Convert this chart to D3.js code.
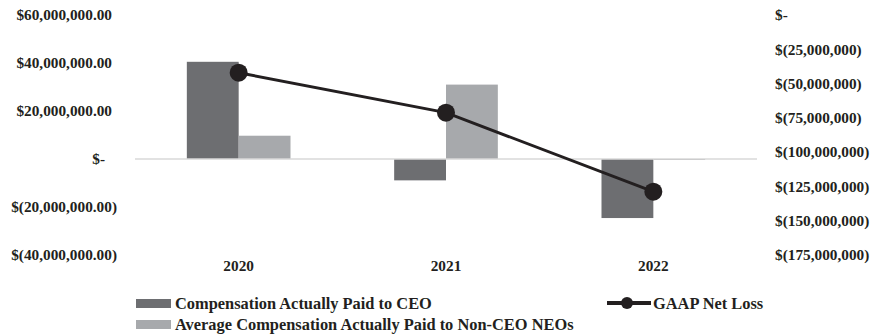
<!DOCTYPE html>
<html>
<head>
<meta charset="utf-8">
<script src="https://cdn.jsdelivr.net/npm/d3@7"></script>
<style>
  body { margin: 0; background: #fff; }
  text { font-family: 'Liberation Serif', 'Times New Roman', serif; font-weight: bold; fill: #231f20; }
</style>
</head>
<body>
<div id="chart"></div>
<script>
const years        = ['2020', '2021', '2022']
const seriesNames  = ['Compensation Actually Paid to CEO', 'Average Compensation Actually Paid to Non-CEO NEOs']
const ceoPaid      = [40500000, -8900000, -24600000]
const neoPaid      = [9700000, 31000000, -400000]
const netLoss      = [-42100000, -71200000, -128800000]
const leftTicks    = [60000000, 40000000, 20000000, 0, -20000000, -40000000]
const leftLabels   = ['$60,000,000.00', '$40,000,000.00', '$20,000,000.00', '$-', '$(20,000,000.00)', '$(40,000,000.00)']
const rightTicks   = [0, -25000000, -50000000, -75000000, -100000000, -125000000, -150000000, -175000000]
const rightLabels  = ['$-', '$(25,000,000)', '$(50,000,000)', '$(75,000,000)', '$(100,000,000)', '$(125,000,000)', '$(150,000,000)', '$(175,000,000)']
const lineName     = 'GAAP Net Loss'

const barColors   = ['#6d6e71', '#a7a9ac']
const lineColor   = '#231f20'
const width = 877, height = 334
const plot = { left: 135, right: 757, top: 15, bottom: 255 }

const svg = d3.select('#chart').append('svg').attr('width', width).attr('height', height)

const x0 = d3.scaleBand().domain(years).range([plot.left, plot.right]).paddingInner(0).paddingOuter(0)
const x1 = d3.scaleBand().domain([0, 1]).range([0, x0.bandwidth()]).paddingInner(0).paddingOuter(1)
const yL = d3.scaleLinear().domain([-40000000, 60000000]).range([plot.bottom, plot.top])
const yR = d3.scaleLinear().domain([-175000000, 0]).range([plot.bottom, plot.top])

// left axis labels (accounting-style alignment)
svg.append('g').selectAll('text').data(leftTicks).enter().append('text')
  .attr('x', (d, i) => 117 - (d > 0 ? 5 : d == 0 ? 12 : 0))
  .attr('y', d => yL(d)).attr('dy', '0.35em')
  .attr('text-anchor', 'end').style('font-size', '15.3px')
  .text((d, i) => leftLabels[i])

// right axis labels
svg.append('g').selectAll('text').data(rightTicks).enter().append('text')
  .attr('x', 775).attr('y', d => yR(d)).attr('dy', '0.35em')
  .attr('text-anchor', 'start').style('font-size', '15.3px')
  .text((d, i) => rightLabels[i])

// bars
const barData = years.map((yr, i) => [ceoPaid[i], neoPaid[i]].map((v, s) => ({ yr, v, s })))
svg.append('g').selectAll('g').data(barData).enter().append('g')
  .attr('transform', d => 'translate(' + x0(d[0].yr) + ',0)')
  .selectAll('rect').data(d => d).enter().append('rect')
  .attr('x', d => x1(d.s)).attr('width', x1.bandwidth())
  .attr('y', d => yL(Math.max(0, d.v)))
  .attr('height', d => Math.max(1, Math.abs(yL(d.v) - yL(0))))
  .attr('fill', d => barColors[d.s])

// zero line
svg.append('line').attr('x1', plot.left).attr('x2', plot.right)
  .attr('y1', yL(0)).attr('y2', yL(0))
  .attr('stroke', '#d9d9d9').attr('stroke-width', 1.5)

// net loss line
const lineData = years.map((yr, i) => ({ yr, v: netLoss[i] }))
const cx = d => x0(d.yr) + x0.bandwidth() / 2
svg.append('path').datum(lineData)
  .attr('fill', 'none').attr('stroke', lineColor).attr('stroke-width', 3)
  .attr('d', d3.line().x(cx).y(d => yR(d.v)))
svg.append('g').selectAll('circle').data(lineData).enter().append('circle')
  .attr('cx', cx).attr('cy', d => yR(d.v)).attr('r', 9).attr('fill', lineColor)

// x labels
svg.append('g').selectAll('text').data(years).enter().append('text')
  .attr('x', d => x0(d) + x0.bandwidth() / 2).attr('y', 266).attr('dy', '0.35em')
  .attr('text-anchor', 'middle').style('font-size', '15.3px')
  .text(d => d)

// legend
const legend = svg.append('g')
seriesNames.forEach((name, i) => {
  legend.append('rect').attr('x', 136).attr('y', 299 + i * 21).attr('width', 35).attr('height', 9).attr('fill', barColors[i])
  legend.append('text').attr('x', 175).attr('y', 303 + i * 21).attr('dy', '0.35em').style('font-size', '16.4px').text(name)
})
legend.append('line').attr('x1', 607).attr('x2', 651).attr('y1', 303).attr('y2', 303).attr('stroke', lineColor).attr('stroke-width', 4)
legend.append('circle').attr('cx', 627).attr('cy', 303).attr('r', 6).attr('fill', lineColor)
legend.append('text').attr('x', 653).attr('y', 303).attr('dy', '0.35em').style('font-size', '16.4px').text(lineName)
</script>
</body>
</html>
